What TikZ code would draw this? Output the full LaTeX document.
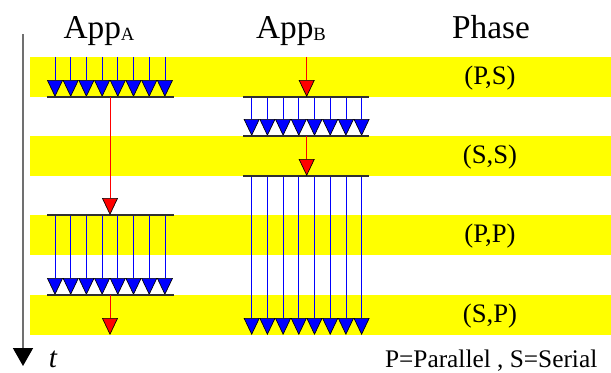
\documentclass[tikz,border=0pt]{standalone}
\usepackage{fontspec}
\setmainfont{Liberation Serif}
\usetikzlibrary{arrows.meta}
\definecolor{bandYel}{HTML}{FFFF00}
\definecolor{axisGray}{HTML}{707070}
\definecolor{barInk}{HTML}{303030}

\begin{document}
\begin{tikzpicture}[x=0.75pt, y=-0.75pt,
  band/.style={fill=bandYel},
  barline/.style={draw=barInk, line width=1pt},
  thread/.style={draw=blue, line width=0.6pt, -{Triangle[width=12pt, length=12.75pt, color=black, fill=blue, line width=0.5pt]}},
  handoff/.style={draw=red, line width=0.6pt, -{Triangle[width=12pt, length=12.75pt, color=black, fill=red, line width=0.5pt]}},
  head/.style={font=\fontsize{25}{25}\selectfont, anchor=base},
  phase/.style={font=\fontsize{20}{20}\selectfont}]
  \useasboundingbox (0,0) rectangle (611,372);

  % phase bands
  \foreach \y in {57,136,215,295}
    \fill[band] (30,\y) rectangle (611,\y+40);

  % time axis
  \coordinate (t0) at (23,34);
  \coordinate (t1) at (23,366);
  \draw[axisGray, line width=1.2pt, -{Triangle[width=15pt, length=13.5pt, color=black]}] (t0) -- (t1);
  \node[font=\fontsize{22}{22}\selectfont\itshape, anchor=base] (tlab) at (53,367) {t};

  % headings
  \node[head] (appA) at (99,38) {App\raisebox{-1.5pt}{\fontsize{14}{14}\selectfont A}};
  \node[head] (appB) at (291,38) {App\raisebox{-1.5pt}{\fontsize{14}{14}\selectfont B}};
  \node[head] (phase) at (491,38) {Phase};

  % phase names
  \node[phase] (ps) at (490,78) {(P,S)};
  \node[phase] (ss) at (490,157) {(S,S)};
  \node[phase] (pp) at (490,236) {(P,P)};
  \node[phase] (sp) at (490,316) {(S,P)};
  \node[font=\fontsize{19}{19}\selectfont, anchor=base east] (legend) at (602,367) {P=Parallel , S=Serial};

  % App A
  \foreach \k in {0,...,7} {
    \coordinate (a1s\k) at (55+15.7*\k,57);
    \coordinate (a1e\k) at (55+15.7*\k,97);
    \coordinate (a2s\k) at (55+15.7*\k,215);
    \coordinate (a2e\k) at (55+15.7*\k,295);
    \draw[thread] (a1s\k) -- (a1e\k);
    \draw[thread] (a2s\k) -- (a2e\k);
  }
  \draw[barline] (47,97) -- (174,97);
  \draw[barline] (47,215) -- (174,215);
  \draw[barline] (47,295) -- (174,295);
  \coordinate (ra0) at (110,97);
  \coordinate (ra1) at (110,215);
  \coordinate (ra2) at (110,295);
  \coordinate (ra3) at (110,335);
  \draw[handoff] (ra0) -- (ra1);
  \draw[handoff] (ra2) -- (ra3);

  % App B
  \foreach \k in {0,...,7} {
    \coordinate (b1s\k) at (251.7+15.7*\k,97);
    \coordinate (b1e\k) at (251.7+15.7*\k,136);
    \coordinate (b2s\k) at (251.7+15.7*\k,176);
    \coordinate (b2e\k) at (251.7+15.7*\k,335);
    \draw[thread] (b1s\k) -- (b1e\k);
    \draw[thread] (b2s\k) -- (b2e\k);
  }
  \draw[barline] (243,97) -- (369,97);
  \draw[barline] (243,136) -- (369,136);
  \draw[barline] (243,176) -- (369,176);
  \coordinate (rb0) at (306.7,57);
  \coordinate (rb1) at (306.7,97);
  \coordinate (rb2) at (306.7,136);
  \coordinate (rb3) at (306.7,176);
  \draw[handoff] (rb0) -- (rb1);
  \draw[handoff] (rb2) -- (rb3);
\end{tikzpicture}
\end{document}
